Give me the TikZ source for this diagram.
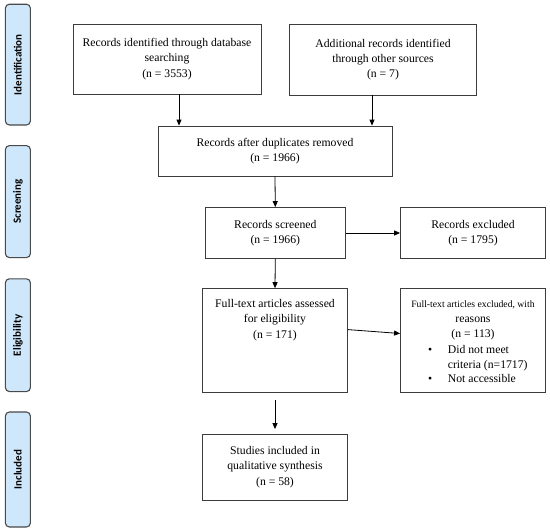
\documentclass[tikz,border=0pt]{standalone}
\usepackage{fontspec}
\setmainfont{Liberation Serif}
\newfontfamily\labfont{Carlito}
\usetikzlibrary{arrows.meta}
\definecolor{labfill}{HTML}{CFE7FA}
\definecolor{labdraw}{HTML}{4A4A4A}
\definecolor{boxdraw}{HTML}{3C3C3C}
\begin{document}
\begin{tikzpicture}[x=1pt,y=-1pt,
  stagelab/.style={draw=labdraw,fill=labfill,line width=1.1pt,rounded corners=4pt,
    rotate=90,minimum height=25pt,inner sep=0pt,
    font=\labfont\bfseries\fontsize{11}{13}\selectfont},
  flowbox/.style={draw=boxdraw,line width=0.8pt,inner sep=0pt,align=center,
    font=\fontsize{11.7}{15.3}\selectfont},
  txt/.style={inner sep=0pt,align=center,font=\fontsize{11.7}{15.3}\selectfont},
  arr/.style={-{Triangle[length=6pt,width=5pt]},line width=0.8pt,black}]
\useasboundingbox (0,0) rectangle (550,530);
\fill[white] (0,0) rectangle (550,530);
% stage labels
\node[stagelab,minimum width=120.8pt] (sId) at (17.9,64.6) {Identification};
\node[stagelab,minimum width=112pt] (sSc) at (17.9,201.6) {Screening};
\node[stagelab,minimum width=112.8pt] (sEl) at (17.9,335.2) {Eligibility};
\node[stagelab,minimum width=115pt] (sIn) at (17.9,469.5) {Included};
% boxes
\node[flowbox,minimum width=188pt,minimum height=70pt] (b1) at (167,59)
  {Records identified through database\\searching\\(n = 3553)};
\node[flowbox,minimum width=187.5pt,minimum height=71pt] (b2) at (383,59.5)
  {Additional records identified\\through other sources\\(n = 7)};
\node[flowbox,minimum width=234pt,minimum height=50pt] (b3) at (275,151)
  {Records after duplicates removed\\(n = 1966)};
\node[flowbox,minimum width=140.6pt,minimum height=51pt] (b4) at (275.3,233)
  {Records screened\\(n = 1966)};
\node[flowbox,minimum width=145pt,minimum height=51pt] (b5) at (473,233)
  {Records excluded\\(n = 1795)};
\node[flowbox,minimum width=145pt,minimum height=103.4pt] (b6) at (275,340.3) {};
\node[txt] (b6t) at (275,320) {Full-text articles assessed\\for eligibility\\(n = 171)};
\node[flowbox,minimum width=145pt,minimum height=103.4pt] (b7) at (473,340.3) {};
\node[txt,anchor=base,font=\fontsize{9.7}{12}\selectfont] (b7a) at (473,307.5)
  {Full-text articles excluded, with};
\node[txt,anchor=base] (b7b) at (473,322) {reasons};
\node[txt,anchor=base] (b7c) at (473,337.5) {(n = 113)};
\node[txt,anchor=base west,align=left,font=\fontsize{11.7}{14.5}\selectfont] (b7d) at (428,353.5)
  {\begin{tabular}[t]{@{}l@{\hspace{15.6pt}}l@{}}
   \textbullet & Did not meet\\
               & criteria (n=1717)\\
   \textbullet & Not accessible
   \end{tabular}};
\node[flowbox,minimum width=145pt,minimum height=66pt] (b8) at (275,467)
  {Studies included in\\qualitative synthesis\\(n = 58)};
% connectors
\draw[arr] ([xshift=12pt]b1.south) -- ([xshift=12pt]b1.south |- b3.north);
\draw[arr] ([xshift=-11pt]b2.south) -- ([xshift=-11pt]b2.south |- b3.north);
\draw[arr] (b3.south) -- (b4.north);
\draw[arr] (b4.east) -- (b5.west);
\draw[arr] (b4.south) -- (b6.north);
\draw[arr] ([yshift=10.7pt]b6.east) -- ([yshift=6.8pt]b7.west);
\draw[arr] ([yshift=-8pt]b6.south) -- ([yshift=4.5pt]b8.north);
\end{tikzpicture}
\end{document}
